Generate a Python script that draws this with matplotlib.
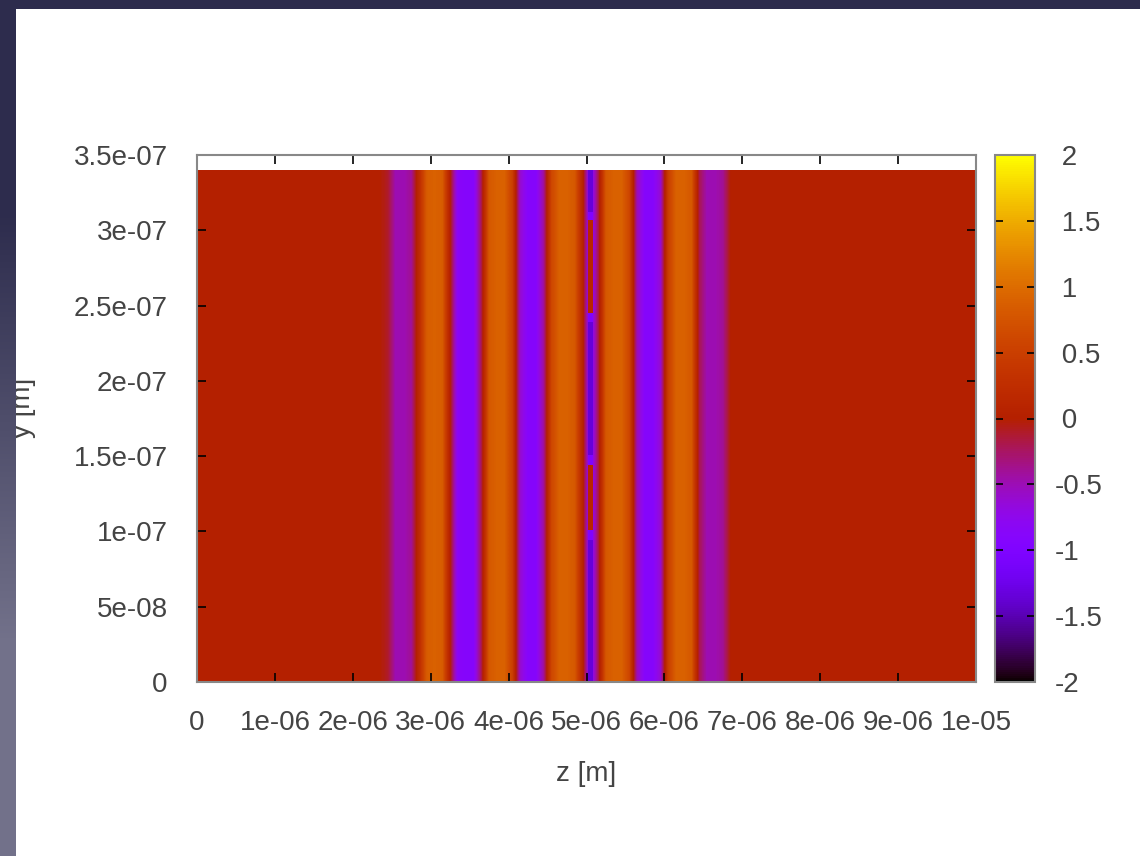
import numpy as np
import matplotlib.pyplot as plt
from matplotlib.colors import LinearSegmentedColormap

plt.rcParams['font.family'] = ['Liberation Sans', 'DejaVu Sans']
plt.rcParams['axes.unicode_minus'] = False

# field E(z) on 1e-7 m cells from 0 to 1e-5 m, constant along y
cell_dz = 1e-7
n_cells = 100
fringe_first = 24
fringe_vals = [-0.1, -0.5, -0.5, -0.4, 0.2, 0.85, 0.9, 0.85, 0.0,
               -0.85, -0.9, -0.9, -0.2, 0.8, 0.9, 0.9, 0.5,
               -0.6, -0.9, -0.9, -0.4, 0.6, 0.9, 0.9, 0.8, 0.1,
               -0.95, -0.2, 0.8, 0.9, 0.9, 0.6,
               -0.5, -0.9, -0.9, -0.6, 0.5, 0.9, 0.9, 0.8,
               -0.2, -0.5, -0.5, -0.4]
y_top = 3.4e-7

# thin column at the centre of the structure, varying along y
center_z = [5.015e-6, 5.085e-6]
center_y_edges = [0, 0.94e-7, 1.01e-7, 1.44e-7, 1.51e-7,
                  2.39e-7, 2.45e-7, 3.07e-7, 3.12e-7, 3.40e-7]
center_vals = [-1.35, -1.0, 0.1, -1.0, -1.35, -1.0, 0.1, -1.0, -1.35]

x_ticks = [0, 1e-6, 2e-6, 3e-6, 4e-6, 5e-6, 6e-6, 7e-6, 8e-6, 9e-6, 1e-5]
x_labels = ['0', '1e-06', '2e-06', '3e-06', '4e-06', '5e-06',
            '6e-06', '7e-06', '8e-06', '9e-06', '1e-05']
y_ticks = [0, 5e-8, 1e-7, 1.5e-7, 2e-7, 2.5e-7, 3e-7, 3.5e-7]
y_labels = ['0', '5e-08', '1e-07', '1.5e-07', '2e-07', '2.5e-07', '3e-07', '3.5e-07']
cb_ticks = [-2, -1.5, -1, -0.5, 0, 0.5, 1, 1.5, 2]
cb_labels = ['-2', '-1.5', '-1', '-0.5', ' 0', ' 0.5', ' 1', ' 1.5', ' 2']

W, H = 1140, 856
fig = plt.figure(figsize=(W / 100, H / 100), dpi=100)
fig.patch.set_facecolor('white')

field = np.zeros(n_cells)
field[fringe_first:fringe_first + len(fringe_vals)] = fringe_vals

txt = '#444444'
ax = fig.add_axes([197 / W, 174 / H, 779 / W, 527 / H])
im = ax.imshow(field[np.newaxis, :], cmap='gnuplot', vmin=-2, vmax=2,
               extent=[0, n_cells * cell_dz, 0, y_top], origin='lower',
               aspect='auto', interpolation='bilinear',
               interpolation_stage='data')
ax.pcolormesh(center_z, center_y_edges, np.array(center_vals)[:, np.newaxis],
              cmap='gnuplot', vmin=-2, vmax=2, shading='flat')
ax.set_xlim(0, 1e-5)
ax.set_ylim(0, 3.5e-7)
ax.set_xticks(x_ticks)
ax.set_xticklabels(x_labels)
ax.set_yticks(y_ticks)
ax.set_yticklabels(y_labels)
ax.tick_params(direction='in', length=6.5, width=1.2, color='black',
               top=True, right=True, labelsize=20, labelcolor=txt)
ax.tick_params(axis='x', pad=20)
ax.tick_params(axis='y', pad=21)
for s in ax.spines.values():
    s.set_color('#888888')
    s.set_linewidth(1.5)
ax.set_xlabel('z [m]', fontsize=20, color=txt, labelpad=18)
ax.set_ylabel('y [m]', fontsize=20, color=txt)
ax.yaxis.set_label_coords(-0.207, 0.52)

# colour box
cax = fig.add_axes([995 / W, 174 / H, 40 / W, 527 / H])
cb = fig.colorbar(im, cax=cax, ticks=cb_ticks)
cb.outline.set_edgecolor('#888888')
cb.outline.set_linewidth(1.5)
cax.set_yticklabels(cb_labels)
cax.tick_params(direction='in', length=6, width=1.2, color='black',
                left=True, right=True, labelleft=False, labelright=True,
                labelsize=20, labelcolor=txt, pad=14)

# dark slide border along the top and left edge
frame_cmap = LinearSegmentedColormap.from_list('frame', ['#2d2c4d', '#72718a'])
top = fig.add_axes([0, 1 - 9 / H, 1, 9 / H], zorder=10)
top.imshow([[0, 0]], cmap=frame_cmap, vmin=0, vmax=1, aspect='auto')
top.set_axis_off()
left = fig.add_axes([0, 0, 16 / W, 1], zorder=10)
left.imshow([[0], [1]], cmap=frame_cmap, vmin=0, vmax=1, aspect='auto',
            interpolation='bilinear', extent=[0, 1, 1, 0])
left.set_axis_off()

fig.savefig('out.png', dpi=100)
